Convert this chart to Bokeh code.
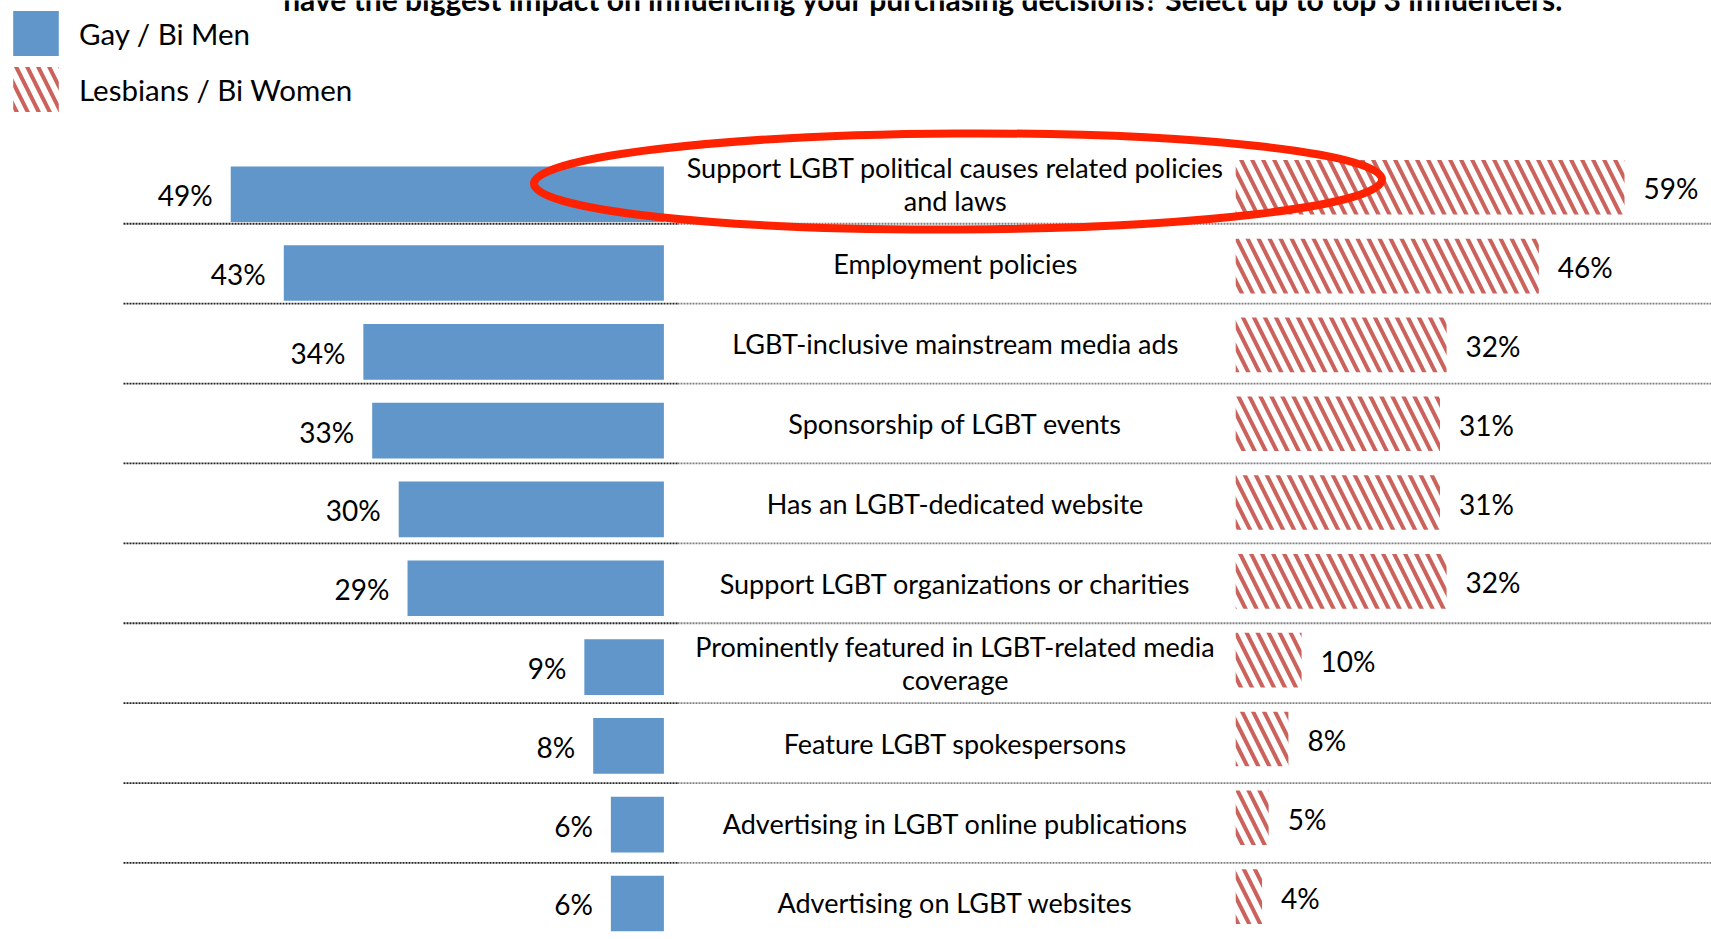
from bokeh.plotting import figure
from bokeh.models import Range1d, ColumnDataSource, Legend, LegendItem, Label
from bokeh.transform import dodge
from bokeh.core.properties import value
from bokeh.embed import file_html
from bokeh.resources import INLINE

# ---------------- data ----------------
categories = [
    "Support LGBT political causes related policies\nand laws",
    "Employment policies",
    "LGBT-inclusive mainstream media ads",
    "Sponsorship of LGBT events",
    "Has an LGBT-dedicated website",
    "Support LGBT organizations or charities",
    "Prominently featured in LGBT-related media\ncoverage",
    "Feature LGBT spokespersons",
    "Advertising in LGBT online publications",
    "Advertising on LGBT websites",
]
men = [49, 43, 34, 33, 30, 29, 9, 8, 6, 6]
women = [59, 46, 32, 31, 31, 32, 10, 8, 5, 4]
series_names = ["Gay / Bi Men", "Lesbians / Bi Women"]
title_text = ("have the biggest impact on influencing your purchasing decisions? "
              "Select up to top 3 influencers.")

# ---------------- layout constants (pixels) ----------------
W, H = 1711, 939
BLUE_ZERO, BLUE_PX = 663.4, 8.84      # px position of 0 %, px per %
RED_ZERO, RED_PX = 1235.2, 6.59
ROW0, ROW_PX = 193.7, 78.81           # bar rows
LAB0, LAB_PX = 183.3, 79.9            # label / separator rows
FONT = "Lato"
BLUE = "#6096C9"
RED = "#CB625B"


def bx(px):
    return (px - BLUE_ZERO) / BLUE_PX


def ry(px):
    return (px - ROW0) / ROW_PX


rows = list(range(len(categories)))
src = ColumnDataSource(dict(
    row=rows,
    cat=categories,
    men=men,
    men_left=[-v for v in men],
    men_lbl=[f"{v}%" for v in men],
    women=women,
    women_lbl=[f"{v}%" for v in women],
))
sep_src = ColumnDataSource(dict(sep=[r + 0.5 for r in rows[:-1]]))

p = figure(
    width=W, height=H,
    x_range=Range1d(-BLUE_ZERO / BLUE_PX, (W - BLUE_ZERO) / BLUE_PX),
    y_range=Range1d((H - ROW0) / ROW_PX, -ROW0 / ROW_PX),
    x_axis_type=None, y_axis_type=None,
    output_backend="svg", toolbar_location=None,
    min_border=0, outline_line_color=None,
)
p.xgrid.visible = False
p.ygrid.visible = False
p.extra_x_ranges = {"red": Range1d(-RED_ZERO / RED_PX, (W - RED_ZERO) / RED_PX)}
p.extra_y_ranges = {"lab": Range1d((H - LAB0) / LAB_PX, -LAB0 / LAB_PX)}

# separators
p.segment(x0=bx(123), x1=bx(677), y0="sep", y1="sep", y_range_name="lab",
          source=sep_src, line_color="#222222", line_width=1.8, line_dash="2 1")
p.segment(x0=bx(677), x1=bx(W + 5), y0="sep", y1="sep", y_range_name="lab",
          source=sep_src, line_color="#808080", line_width=1.8, line_dash="2 1")

# bars
blue_r = p.hbar(y="row", left="men_left", right=0, height=0.706, source=src,
                fill_color=BLUE, line_color=None)
red_y = dodge("row", -0.0875)
red_r = p.hbar(y=red_y, left=0, right="women", height=0.693, source=src,
               x_range_name="red", fill_color="white", line_color=None,
               hatch_pattern="\\", hatch_color=RED, hatch_scale=22, hatch_weight=4)

# value labels
p.text(x="men_left", y="row", text="men_lbl", source=src, x_offset=-18, y_offset=1,
       text_align="right", text_baseline="middle", text_font=value(FONT),
       text_font_size="28px", text_color="black")
p.text(x="women", y=red_y, text="women_lbl", source=src, x_range_name="red",
       x_offset=19, y_offset=1, text_align="left", text_baseline="middle",
       text_font=value(FONT), text_font_size="28px", text_color="black")

# category labels
p.text(x=bx(954.8), y="row", text="cat", source=src, y_range_name="lab",
       text_align="center", text_baseline="middle", text_font=value(FONT),
       text_font_size="27px", text_color="black", text_line_height=1.0)

# highlight ellipse
p.ellipse(x=bx(957.5), y=ry(181), width=848, height=96,
          width_units="screen", height_units="screen", angle=0.005,
          fill_color=None, line_color="#FF2200", line_width=8)

# title (cut off at top as in the source image)
p.add_layout(Label(x=923, y=H + 2, x_units="screen", y_units="screen",
                   text=title_text, text_align="center", text_baseline="alphabetic",
                   text_font=FONT, text_font_style="bold", text_font_size="30px",
                   text_color="black"))

legend = Legend(
    items=[LegendItem(label=series_names[0], renderers=[blue_r]),
           LegendItem(label=series_names[1], renderers=[red_r])],
    location=(7, H - 117), glyph_width=57, glyph_height=56, label_height=56,
    spacing=0, padding=0, margin=0, label_standoff=15,
    label_text_font=FONT, label_text_font_size="29.5px", label_text_color="black",
    border_line_color=None, background_fill_alpha=0,
)
p.add_layout(legend)

open("out.html", "w").write(file_html(p, INLINE))
